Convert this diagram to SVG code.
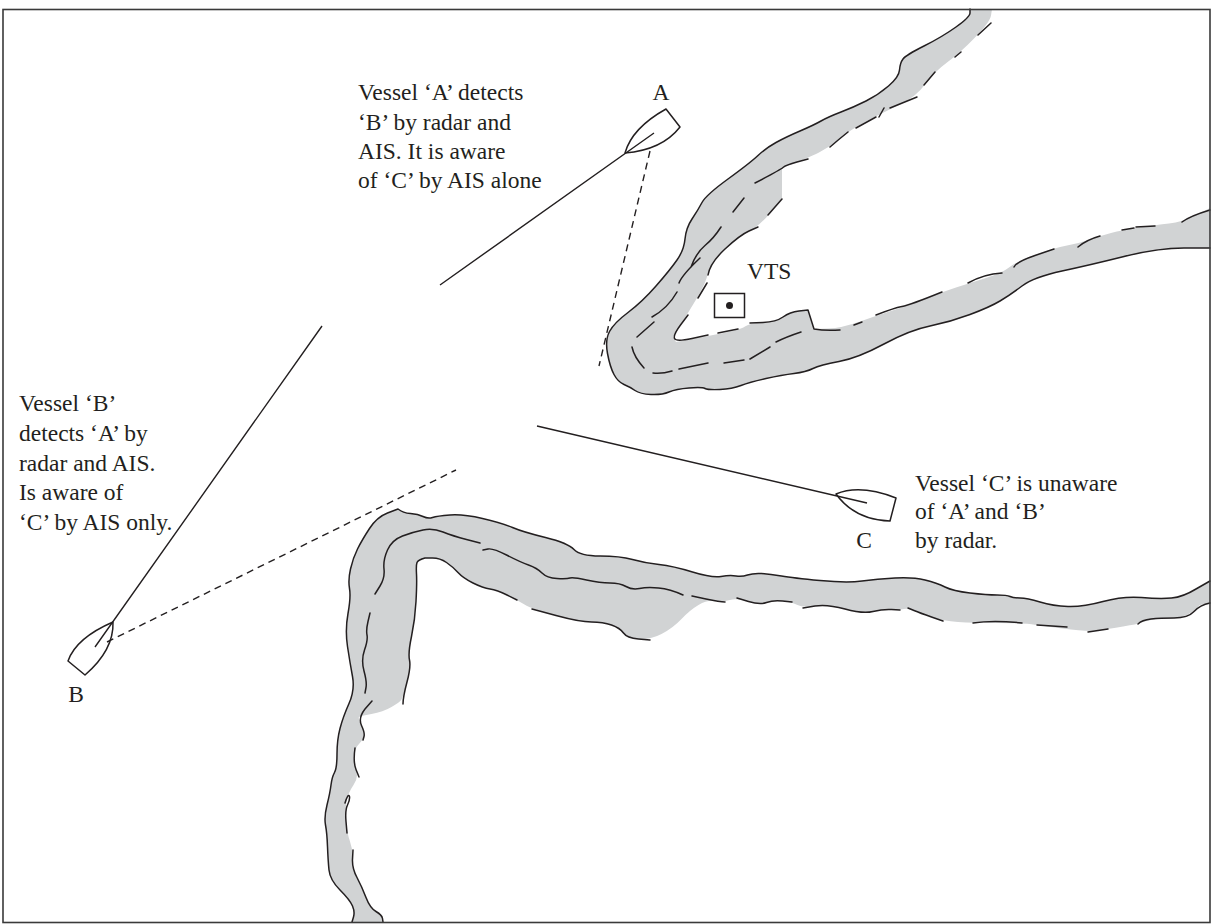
<svg xmlns="http://www.w3.org/2000/svg" width="1215" height="924" viewBox="0 0 1215 924">
<style>
text{font-family:"Liberation Serif","Times New Roman",serif;font-size:23.500px;fill:#231f20}
.land{fill:#d1d3d4;stroke:none}
.sh{fill:none;stroke:#231f20;stroke-width:1.5;stroke-linejoin:round;stroke-linecap:round}
.hull{fill:none;stroke:#231f20;stroke-width:1.5;stroke-linejoin:round}
.ln{fill:none;stroke:#231f20;stroke-width:1.4}
.ds{fill:none;stroke:#231f20;stroke-width:1.4;stroke-dasharray:7 5}
</style>
<rect width="1215" height="924" fill="#fff"/>
<g id="channel-north">
<path class="land" d="M970 9L970 13Q970 17 956 27Q942 37 924 46Q906 55 903 59Q900 63 899.500 70Q899 77 888.500 86Q878 95 866 101Q854 107 841 112Q828 117 821 121Q814 125 800 131Q786 137 776 142.500Q766 148 758 155.500Q750 163 728 179Q706 195 702 202.500Q698 210 692 219Q686 228 685 239Q684 250 677 260Q670 270 656 286Q642 302 628 312.500Q614 323 609.500 331.500Q605 340 607.500 353.500Q610 367 614 374.500Q618 382 624 384.500Q630 387 635 390.500Q640 394 651 394.500Q662 395 669 392Q676 389 689 388Q702 387 705 388.500Q708 390 720 389.500Q732 389 741 385.500Q750 382 766 378.500Q782 375 794 373.500Q806 372 813 368.500Q820 365 839 361.500Q858 358 884 344Q910 330 930 326Q950 322 970 314.500Q990 307 1000 301Q1010 295 1022 286Q1034 277 1062 271Q1090 265 1124 256.500Q1158 248 1184 248L1210 248L1210 208L1196 215Q1182 222 1169 223.500Q1156 225 1139 227.500Q1122 230 1111 233Q1100 236 1090 239.500Q1080 243 1067 245.500Q1054 248 1035 255Q1016 262 1009 267.500Q1002 273 986 278Q970 283 956 287.500Q942 292 926 298.500Q910 305 894 310Q878 315 860 321.500Q842 328 828 328.500L814 329L808 310L799 311Q790 312 783 317Q776 322 763 322.500Q750 323 745 326.500Q740 330 708 336L676 342L673 337L680.500 325Q688 313 697 298Q706 283 708 273Q710 263 724 250Q738 237 748 232Q758 227 770 213.500L782 199L782 168Q808 158 819 152.500Q830 147 840 138.500Q850 130 866 121.500Q882 113 899 105Q916 97 925 84.500Q934 72 947 62.500Q960 53 975 37.500Q990 22 991 15.500L992 9Z"/>
<path class="sh" d="M970 9L970 13Q970 17 956 27Q942 37 924 46Q906 55 903 59Q900 63 899.500 70Q899 77 888.500 86Q878 95 866 101Q854 107 841 112Q828 117 821 121Q814 125 800 131Q786 137 776 142.500Q766 148 758 155.500Q750 163 728 179Q706 195 702 202.500Q698 210 692 219Q686 228 685 239Q684 250 677 260Q670 270 656 286Q642 302 628 312.500Q614 323 609.500 331.500Q605 340 607.500 353.500Q610 367 614 374.500Q618 382 624 384.500Q630 387 635 390.500Q640 394 651 394.500Q662 395 669 392Q676 389 689 388Q702 387 705 388.500Q708 390 720 389.500Q732 389 741 385.500Q750 382 766 378.500Q782 375 794 373.500Q806 372 813 368.500Q820 365 839 361.500Q858 358 884 344Q910 330 930 326Q950 322 970 314.500Q990 307 1000 301Q1010 295 1022 286Q1034 277 1062 271Q1090 265 1124 256.500Q1158 248 1184 248L1210 248"/>
<path class="sh" d="M991 23L978 35M961 52L955 57M935 72L924 85M917 97L890 108M884 108L879 117M876 117L856 128M848 132Q838 140 830 147M808 159L797 162Q786 165 783 167.500Q780 170 755 183M744 198L733 212M782 199L768 215M758 227L749 231Q740 235 725 249Q710 263 708 275M707 283L698 298M688 315L680.500 325Q673 335 674.500 338.500Q676 342 692 338.500L708 335M718 333L738 329M750 323L763 322.500Q776 322 783 317Q790 312 799 311L808 310L814 329Q825 331 840 330M854 325L862 322M876 315Q894 308 902 306.500Q910 305 942 292M968 283Q984 274 1002 273M1014 267Q1016 262 1035 255.500L1054 249M1078 247Q1086 240 1100 236M1122 230L1134 228M1136 227L1155 226M1182 222Q1190 216 1210 210"/>
<path class="sh" d="M721 227Q714 238 705 245.500Q696 253 691 267M700 258Q682 275 679 283M677 292Q668 308 652 317M654 322L637 337M632 347Q634 357 644 368M653 373Q662 374 672 371M679 369L708 363M724 363L744 360M750 359L770 347M776 342Q786 337 801 332"/>
</g>
<g id="channel-south">
<path class="land" d="M398 509Q403 513 410.500 513.500Q418 514 423 516.500Q428 519 432.500 517.500Q437 516 450 515Q463 514 482.500 518.500Q502 523 512.500 527.500Q523 532 545.500 537.500Q568 543 574 549.500Q580 556 600 556Q620 556 632.500 559.500Q645 563 659 564.500Q673 566 692.500 572Q712 578 721 576.500Q730 575 736 576Q742 577 747.500 575Q753 573 761.500 573.500Q770 574 781.500 576Q793 578 820 580.500Q847 583 862 581Q877 579 895 578Q913 577 925 580Q937 583 945 587Q953 591 970 593Q987 595 997 595Q1007 595 1010 596.500Q1013 598 1020 598Q1027 598 1040 602Q1053 606 1068 606.500Q1083 607 1103 601.500Q1123 596 1141.500 597.500Q1160 599 1171.500 598Q1183 597 1196 589L1210 581L1210 603L1200 605Q1188 618 1174 618Q1160 618 1151 620Q1142 622 1140 623Q1138 624 1123 626.500Q1108 629 1098 630.500Q1088 632 1062.500 628.500Q1037 625 1029.500 624Q1022 623 997.500 623Q973 623 958 622Q943 621 931.500 617Q920 613 914 610.500Q908 608 904 609Q900 610 891.500 609.500Q883 609 873 611.500Q863 614 845 609Q827 604 815 606Q803 608 797.500 605Q792 602 782.500 601Q773 600 766.500 602.500Q760 605 748.500 601.500Q737 598 730 600Q723 602 715 601Q707 600 698.500 605Q690 610 681.500 619Q673 628 661.500 634Q650 640 638.500 639Q627 638 623.500 633Q620 628 611.500 625Q603 622 591.500 622Q580 622 556 615.500Q532 609 524.500 604.500Q517 600 507 595Q497 590 490 589Q483 588 473 583Q463 578 458 572.500Q453 567 446.500 562.500Q440 558 432.500 558Q425 558 421.500 559Q418 560 417 562.500Q416 565 416.500 574Q417 583 416 601.500Q415 620 411.500 636.500Q408 653 409.500 660Q411 667 407 682Q403 697 401.500 699.500Q400 702 391.500 707Q383 712 371.500 714Q360 716 359 717Q358 718 361.500 725.500Q365 733 364 736.500Q363 740 359 744Q355 748 354 755Q353 762 356 769.500Q359 777 353.500 785Q348 793 346.500 801.500Q345 810 346 821.500Q347 833 350 841.500Q353 850 352.500 859Q352 868 357 877.500Q362 887 366 897.500Q370 908 376 911.500Q382 915 382.500 918.500L383 922L352 922L353.500 917Q355 912 352.500 906Q350 900 340 890Q330 880 329 870Q328 860 327.500 846.500Q327 833 325.500 825Q324 817 327 805Q330 793 331 785Q332 777 334.500 772.500Q337 768 337 754Q337 740 340 728.500Q343 717 349 703.500Q355 690 352.500 676.500Q350 663 347.500 646.500Q345 630 348 613.500Q351 597 349.500 588.500Q348 580 350.500 569Q353 558 357.500 549Q362 540 369.500 528.500Q377 517 387.500 513Z"/>
<path class="sh" d="M352 922L353.500 917Q355 912 352.500 906Q350 900 340 890Q330 880 329 870Q328 860 327.500 846.500Q327 833 325.500 825Q324 817 327 805Q330 793 331 785Q332 777 334.500 772.500Q337 768 337 754Q337 740 340 728.500Q343 717 349 703.500Q355 690 352.500 676.500Q350 663 347.500 646.500Q345 630 348 613.500Q351 597 349.500 588.500Q348 580 350.500 569Q353 558 357.500 549Q362 540 369.500 528.500Q377 517 387.500 513L398 509Q403 513 410.500 513.500Q418 514 423 516.500Q428 519 432.500 517.500Q437 516 450 515Q463 514 482.500 518.500Q502 523 512.500 527.500Q523 532 545.500 537.500Q568 543 574 549.500Q580 556 600 556Q620 556 632.500 559.500Q645 563 659 564.500Q673 566 692.500 572Q712 578 721 576.500Q730 575 736 576Q742 577 747.500 575Q753 573 761.500 573.500Q770 574 781.500 576Q793 578 820 580.500Q847 583 862 581Q877 579 895 578Q913 577 925 580Q937 583 945 587Q953 591 970 593Q987 595 997 595Q1007 595 1010 596.500Q1013 598 1020 598Q1027 598 1040 602Q1053 606 1068 606.500Q1083 607 1103 601.500Q1123 596 1141.500 597.500Q1160 599 1171.500 598Q1183 597 1196 589L1210 581"/>
<path class="sh" d="M375 594L380 586Q385 578 384 569Q383 560 387.500 550Q392 540 402.500 536Q413 532 423 530Q433 528 443 532Q453 536 466.500 539.500L480 543M483 550L488 549Q493 548 506.500 555Q520 562 528.500 565Q537 568 542 573Q547 578 557 578.500Q567 579 570 578Q573 577 586.500 580Q600 583 610 583Q620 583 626 586.500Q632 590 639.500 588.500Q647 587 658.500 588Q670 589 683 595M692 596L706 599Q720 602 725 602M737 598L748.500 601.500Q760 605 766.500 602.500Q773 600 782.500 601L792 602M803 608L815 606Q827 604 845 609Q863 614 873 611.500Q883 609 891.500 609.500L900 610M908 608L914 610.500Q920 613 931.500 617L943 621M973 623Q993 620 1022 623M1037 625L1067 627M1088 632L1108 629M1138 624Q1142 620 1151 619Q1160 618 1174 618Q1188 618 1194 611.500Q1200 605 1210 603"/>
<path class="sh" d="M425 558L432.500 558Q440 558 446.500 562.500Q453 567 458 572.500Q463 578 473 583Q483 588 490 589Q497 590 507 595L517 600M532 609L556 615.500Q580 622 591.500 622Q603 622 611.500 625Q620 628 623.500 633Q627 638 638.500 639L650 640M425 558Q418 560 417 562.500Q416 565 416.500 574Q417 583 416 601.500Q415 620 411.500 636.500Q408 653 409.500 660Q411 667 407 682Q403 697 403 704M370 613L368 621.500Q366 630 367 635Q368 640 364.500 650Q361 660 364 671Q367 682 366 687.500L365 693M372 701L365 709Q358 718 361.500 725.500Q365 733 364 736.500L363 740M355 748Q353 762 356 769.500L359 777M345 803Q348 793 349.500 796.500Q350 800 347.500 805Q345 810 346 821.500L347 833M353 850L352.500 859Q352 868 357 877.500Q362 887 366 897.500Q370 908 376 911.500Q382 915 382.500 918.500L383 922"/>
</g>
<g id="sight-lines">
<path class="ln" d="M654 133L440 285M95 647L322 326M867 503L537 426"/>
<path class="ds" d="M650 151L599 366M107 642L456 470"/>
</g>
<g id="vessel-a">
<path class="hull" d="M625 153Q632 128 666 109L680 127Q662 150 625 153Z"/>
<text x="661" y="100" text-anchor="middle">A</text>
</g>
<g id="vessel-b">
<path class="hull" d="M113 622Q76 638 68 661L85 675Q114 650 113 622Z"/>
<text x="76" y="702" text-anchor="middle">B</text>
</g>
<g id="vessel-c">
<path class="hull" d="M836 494Q860 484 896 498L890 521Q855 520 836 494Z"/>
<text x="864" y="548" text-anchor="middle">C</text>
</g>
<g id="vts">
<rect x="714.500" y="293.500" width="30" height="24" fill="none" stroke="#231f20" stroke-width="1.500"/>
<circle cx="729.500" cy="305.500" r="3.500" fill="#231f20"/>
<text x="747" y="279">VTS</text>
</g>
<g id="note-a">
<text x="358" y="100">Vessel ‘A’ detects</text>
<text x="358" y="130">‘B’ by radar and</text>
<text x="358" y="159">AIS. It is aware</text>
<text x="358" y="188">of ‘C’ by AIS alone</text>
</g>
<g id="note-b">
<text x="19" y="411">Vessel ‘B’</text>
<text x="19" y="441">detects ‘A’ by</text>
<text x="19" y="471">radar and AIS.</text>
<text x="19" y="500">Is aware of</text>
<text x="19" y="530">‘C’ by AIS only.</text>
</g>
<g id="note-c">
<text x="915" y="491">Vessel ‘C’ is unaware</text>
<text x="915" y="519">of ‘A’ and ‘B’</text>
<text x="915" y="548">by radar.</text>
</g>
<rect id="frame" x="3" y="9.500" width="1207" height="913" fill="none" stroke="#3a3a3a" stroke-width="1.600"/>
</svg>
